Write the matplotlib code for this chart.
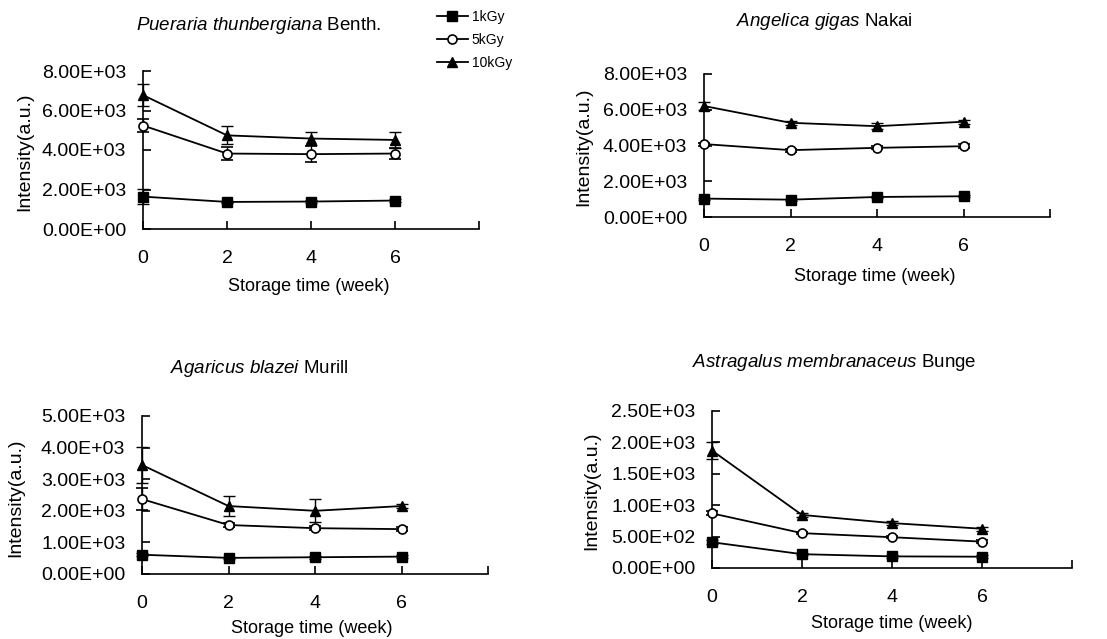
import matplotlib
matplotlib.use("Agg")
import matplotlib.pyplot as plt
from matplotlib.lines import Line2D
from matplotlib.ticker import FuncFormatter, FixedLocator

plt.rcParams['font.family'] = ['Liberation Sans', 'DejaVu Sans']
plt.rcParams['mathtext.fontset'] = 'custom'
plt.rcParams['mathtext.rm'] = 'Liberation Sans'
plt.rcParams['mathtext.it'] = 'Liberation Sans:italic'

weeks = [0, 2, 4, 6]
doses = ['1kGy', '5kGy', '10kGy']

# Pueraria thunbergiana Benth.
pu_1 = [1640, 1370, 1390, 1440]
pu_5 = [5240, 3820, 3790, 3820]
pu_10 = [6780, 4740, 4580, 4510]
pu_1_err = [380, 60, 60, 60]
pu_5_err = [350, 350, 400, 300]
pu_10_err = [560, 460, 330, 400]

# Angelica gigas Nakai
an_1 = [1030, 970, 1120, 1160]
an_5 = [4080, 3740, 3870, 3960]
an_10 = [6210, 5270, 5080, 5330]
an_1_err = [60, 60, 60, 60]
an_5_err = [80, 80, 80, 120]
an_10_err = [250, 100, 180, 120]

# Agaricus blazei Murill
ag_1 = [610, 510, 530, 550]
ag_5 = [2370, 1550, 1450, 1420]
ag_10 = [3450, 2150, 2000, 2150]
ag_1_err = [40, 40, 40, 40]
ag_5_err = [350, 60, 60, 60]
ag_10_err = [580, 330, 370, 60]

# Astragalus membranaceus Bunge
as_1 = [410, 220, 185, 180]
as_5 = [870, 555, 490, 420]
as_10 = [1870, 845, 715, 625]
as_1_err = [30, 20, 20, 20]
as_5_err = [30, 20, 20, 20]
as_10_err = [130, 30, 30, 30]

panels = [
    dict(genus='Pueraria\\ thunbergiana', auth='Benth.', ymax=8000, ystep=2000,
         series=[pu_1, pu_5, pu_10], errs=[pu_1_err, pu_5_err, pu_10_err],
         rect=(143, 71, 479, 229), title=(0.345, 1.29), yl=(-0.327, 0.487), xl=(0.494, -0.31)),
    dict(genus='Angelica\\ gigas', auth='Nakai', ymax=8000, ystep=2000,
         series=[an_1, an_5, an_10], errs=[an_1_err, an_5_err, an_10_err],
         rect=(704, 74, 1050, 217), title=(0.347, 1.37), yl=(-0.324, 0.49), xl=(0.494, -0.357)),
    dict(genus='Agaricus\\ blazei', auth='Murill', ymax=5000, ystep=1000,
         series=[ag_1, ag_5, ag_10], errs=[ag_1_err, ag_5_err, ag_10_err],
         rect=(142, 416, 488, 574), title=(0.338, 1.30), yl=(-0.341, 0.48), xl=(0.49, -0.291)),
    dict(genus='Astragalus\\ membranaceus', auth='Bunge', ymax=2500, ystep=500,
         series=[as_1, as_5, as_10], errs=[as_1_err, as_5_err, as_10_err],
         rect=(712, 411, 1072, 568), title=(0.339, 1.306), yl=(-0.311, 0.49), xl=(0.5, -0.30)),
]

styles = [
    dict(marker='s', mfc='black', mec='black', ms=6.5),
    dict(marker='o', mfc='white', mec='black', ms=6.5, mew=1.2),
    dict(marker='^', mfc='black', mec='black', ms=7.5),
]

W, H = 1107, 639
fig = plt.figure(figsize=(W / 100, H / 100), dpi=100)

for i, p in enumerate(panels):
    l, t, r, b = p['rect']
    ax = fig.add_axes([l / W, 1 - b / H, (r - l) / W, (b - t) / H])
    for j, (ys, es) in enumerate(zip(p['series'], p['errs'])):
        ax.errorbar(weeks, ys, yerr=es, color='black', lw=1.3, capsize=4,
                    elinewidth=1.0, capthick=1.0, clip_on=False, zorder=3, **styles[j])
    ax.set_xlim(0, 8)
    ax.set_ylim(0, p['ymax'])
    ax.xaxis.set_major_locator(FixedLocator([0, 2, 4, 6, 8]))
    ax.xaxis.set_major_formatter(FuncFormatter(lambda v, pos: '' if v > 6 else f'{int(v)}'))
    yt = [k * p['ystep'] for k in range(int(p['ymax'] / p['ystep']) + 1)]
    ax.yaxis.set_major_locator(FixedLocator(yt))
    ax.yaxis.set_major_formatter(FuncFormatter(lambda v, pos: f'{v:.2E}'))
    for s in ['top', 'right']:
        ax.spines[s].set_visible(False)
    for s in ['left', 'bottom']:
        ax.spines[s].set_linewidth(1.2)
    ax.tick_params(direction='in', length=6, width=1.2, labelsize=14, pad=12)
    ax.tick_params(axis='x', pad=15)
    ax.set_ylabel('Intensity(a.u.)', fontsize=14)
    ax.yaxis.set_label_coords(*p['yl'])
    ax.set_xlabel('Storage time (week)', fontsize=13)
    ax.xaxis.set_label_coords(*p['xl'])
    ax.text(p['title'][0], p['title'][1], f"$\\it{{{p['genus']}}}$ {p['auth']}",
            transform=ax.transAxes, ha='center', va='center', fontsize=13.5)

handles = [Line2D([], [], color='black', lw=1.3, **st) for st in styles]
fig.legend(handles=handles, labels=doses, loc='upper left',
           bbox_to_anchor=(430 / W, 1 - 3 / H), frameon=False, fontsize=10,
           handlelength=2.2, handletextpad=0.3, labelspacing=0.65, borderpad=0)

fig.savefig('out.png', dpi=100, facecolor='white')
